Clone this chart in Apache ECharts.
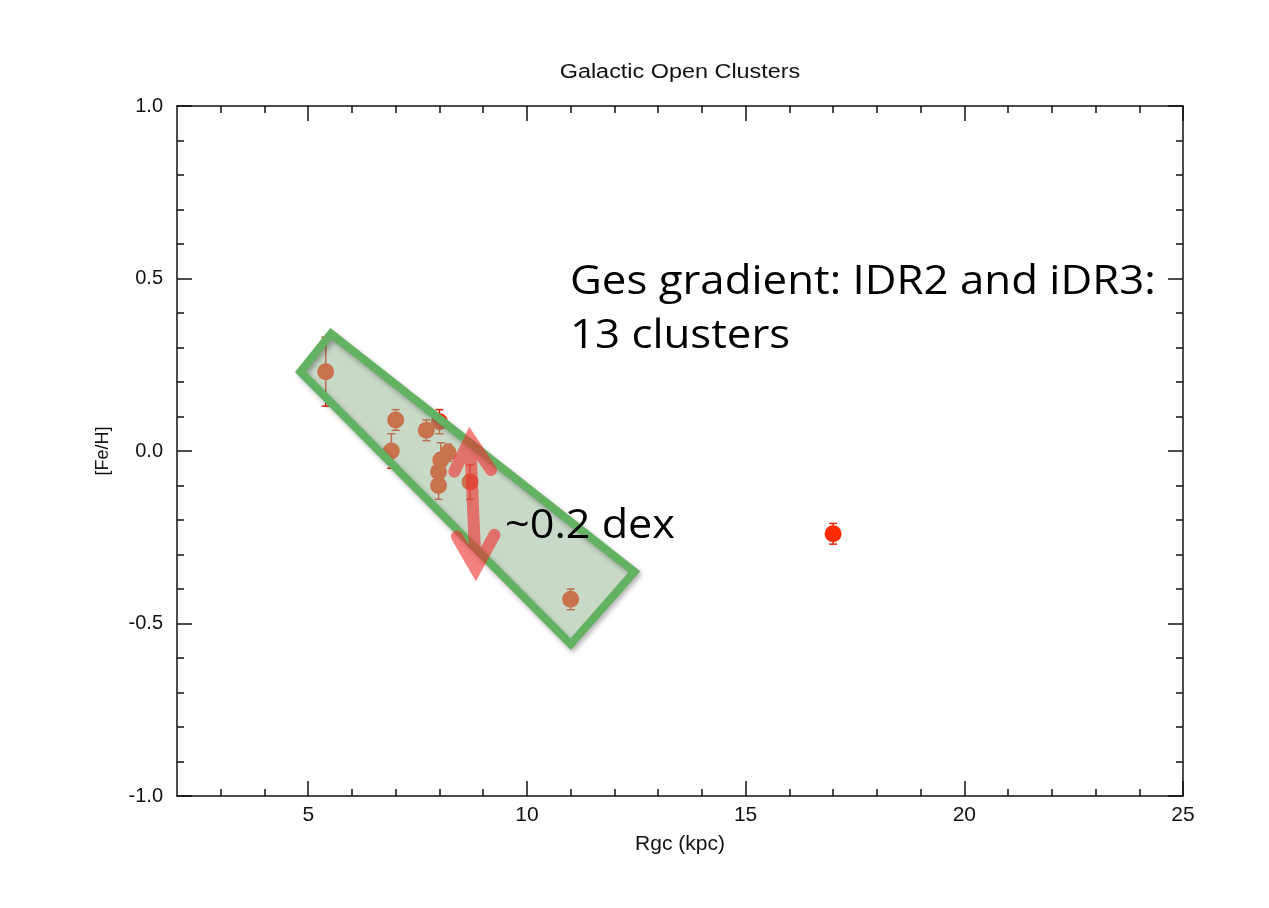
<!DOCTYPE html>
<html><head><meta charset="utf-8">
<script src="https://cdn.jsdelivr.net/npm/echarts@6/dist/echarts.min.js"></script>
<style>html,body{margin:0;padding:0;background:#fff}#c{width:1269px;height:908px}</style>
</head><body><div id="c"></div><script>
// ---- data ----
const rgc = [5.4, 6.9, 7.0, 7.7, 8.0, 8.2, 8.03, 7.98, 7.98, 8.7, 11.0, 17.0];
const feh = [0.23, 0.0, 0.09, 0.06, 0.085, -0.005, -0.026, -0.06, -0.10, -0.09, -0.43, -0.24];
const fehErr = [0.10, 0.05, 0.03, 0.03, 0.035, 0.025, 0.05, 0.03, 0.04, 0.05, 0.03, 0.03];
const xMajor = [5, 10, 15, 20, 25];
const xMinor = [3, 4, 6, 7, 8, 9, 11, 12, 13, 14, 16, 17, 18, 19, 21, 22, 23, 24];
const yMajor = [-1, -0.5, 0, 0.5, 1];
const yMinor = [-0.9, -0.8, -0.7, -0.6, -0.4, -0.3, -0.2, -0.1, 0.1, 0.2, 0.3, 0.4, 0.6, 0.7, 0.8, 0.9];
const regionPoly = [[4.82, 0.23], [5.52, 0.34], [12.46, -0.35], [11.0, -0.56]];
const arrowTop = [[8.34, -0.06], [8.70, 0.035], [9.18, -0.055]];
const arrowBottom = [[8.40, -0.248], [8.83, -0.342], [9.26, -0.243]];
const titleText = 'Galactic Open Clusters';
const xName = 'Rgc (kpc)';
const yName = '[Fe/H]';
const note1 = 'Ges gradient: IDR2 and iDR3:';
const note2 = '13 clusters';
const note3 = '~0.2 dex';

const FONT = '"Liberation Sans", Arial, Helvetica, sans-serif';
const chart = echarts.init(document.getElementById('c'), null, {renderer: 'canvas'});
const lineStyle = {color: '#111', width: 1.5};
function xAx(pos, vals, len, showLine, labels, name) {
  return {
    type: 'value', position: pos, min: 2, max: 25, gridIndex: 0,
    axisLine: {show: showLine, onZero: false, lineStyle},
    axisTick: {show: true, inside: true, length: len, customValues: vals, lineStyle},
    axisLabel: labels ? {show: true, customValues: xMajor, fontFamily: FONT, fontSize: 21, color: '#111', margin: 9} : {show: false},
    splitLine: {show: false},
    name: name || '', nameLocation: 'middle', nameGap: 38,
    nameTextStyle: {fontFamily: FONT, fontSize: 21, color: '#111'}
  };
}
function yAx(pos, vals, len, showLine, labels, name) {
  return {
    type: 'value', position: pos, min: -1, max: 1, gridIndex: 0,
    axisLine: {show: showLine, onZero: false, lineStyle},
    axisTick: {show: true, inside: true, length: len, customValues: vals, lineStyle},
    axisLabel: labels ? {show: true, customValues: yMajor, fontFamily: FONT, fontSize: 20, color: '#111', margin: 14,
      formatter: v => v.toFixed(1)} : {show: false},
    splitLine: {show: false},
    name: name || '', nameLocation: 'middle', nameGap: 65, nameRotate: 90,
    nameTextStyle: {fontFamily: FONT, fontSize: 18, color: '#111'}
  };
}

const option = {
  backgroundColor: '#fff',
  animation: false,
  grid: {left: 177, right: 86, top: 106, bottom: 112, containLabel: false},
  xAxis: [
    xAx('bottom', xMajor, 15, true, true, xName),
    xAx('bottom', xMinor, 7, false, false),
    xAx('top', xMajor, 15, true, false),
    xAx('top', xMinor, 7, false, false)
  ],
  yAxis: [
    yAx('left', yMajor, 15, true, true, yName),
    yAx('left', yMinor, 7, false, false),
    yAx('right', yMajor, 15, true, false),
    yAx('right', yMinor, 7, false, false)
  ],
  series: [
    {
      type: 'custom', name: 'err', z: 2, xAxisIndex: 0, yAxisIndex: 0,
      data: rgc.map((x, i) => [x, feh[i], fehErr[i]]),
      renderItem: function (params, api) {
        const x = api.value(0), y = api.value(1), e = api.value(2);
        const top = api.coord([x, y + e]);
        const bot = api.coord([x, y - e]);
        const hw = 4;
        const st = {stroke: '#e0260c', lineWidth: 1.5};
        return {type: 'group', children: [
          {type: 'line', shape: {x1: top[0], y1: top[1], x2: bot[0], y2: bot[1]}, style: st},
          {type: 'line', shape: {x1: top[0] - hw, y1: top[1], x2: top[0] + hw, y2: top[1]}, style: st},
          {type: 'line', shape: {x1: bot[0] - hw, y1: bot[1], x2: bot[0] + hw, y2: bot[1]}, style: st}
        ]};
      }
    },
    {
      type: 'scatter', z: 3, xAxisIndex: 0, yAxisIndex: 0,
      symbol: 'circle', symbolSize: 17,
      itemStyle: {color: '#ff2a00', opacity: 1},
      data: rgc.map((x, i) => [x, feh[i]])
    },
    {
      type: 'custom', name: 'region', z: 4, xAxisIndex: 0, yAxisIndex: 0,
      data: [regionPoly[0]],
      renderItem: function (params, api) {
        const pts = regionPoly.map(p => api.coord(p));
        return {type: 'group', children: [
          {type: 'polygon', shape: {points: pts},
            style: {fill: 'rgba(150,182,150,0.52)', stroke: null}},
          {type: 'polygon', shape: {points: pts},
            style: {fill: null, stroke: '#62b262', lineWidth: 8, lineJoin: 'miter',
              shadowBlur: 5, shadowColor: 'rgba(0,0,0,0.3)', shadowOffsetX: 2, shadowOffsetY: 3}}
        ]};
      }
    },
    {
      type: 'custom', name: 'arrow', z: 5, xAxisIndex: 0, yAxisIndex: 0,
      data: [arrowTop[1]],
      renderItem: function (params, api) {
        const t = arrowTop.map(p => api.coord(p));
        const b = arrowBottom.map(p => api.coord(p));
        const P = p => p[0].toFixed(1) + ' ' + p[1].toFixed(1);
        const d = 'M' + P(t[0]) + ' L' + P(t[1]) + ' L' + P(t[2]) +
          ' M' + P(t[1]) + ' L' + P(b[1]) +
          ' M' + P(b[0]) + ' L' + P(b[1]) + ' L' + P(b[2]);
        return {type: 'path', shape: {pathData: d},
          style: {fill: null, stroke: 'rgba(240,45,45,0.6)', lineWidth: 12, lineCap: 'round', lineJoin: 'miter'}};
      }
    }
  ],
  graphic: [
    {type: 'text', x: 680, y: 72, z: 10, scaleX: 1.17, style: {text: titleText, font: '20px ' + FONT, fill: '#111', textAlign: 'center', textVerticalAlign: 'middle'}},
    {type: 'text', x: 570, y: 283, z: 10, scaleX: 1.095, style: {text: note1, font: '40px "Open Sans", sans-serif', fill: '#000', textVerticalAlign: 'middle'}},
    {type: 'text', x: 570, y: 337, z: 10, scaleX: 1.095, style: {text: note2, font: '40px "Open Sans", sans-serif', fill: '#000', textVerticalAlign: 'middle'}},
    {type: 'text', x: 505, y: 527, z: 10, scaleX: 1.08, style: {text: note3, font: '40px "Open Sans", sans-serif', fill: '#000', textVerticalAlign: 'middle'}}
  ]
};
chart.setOption(option);
</script></body></html>
